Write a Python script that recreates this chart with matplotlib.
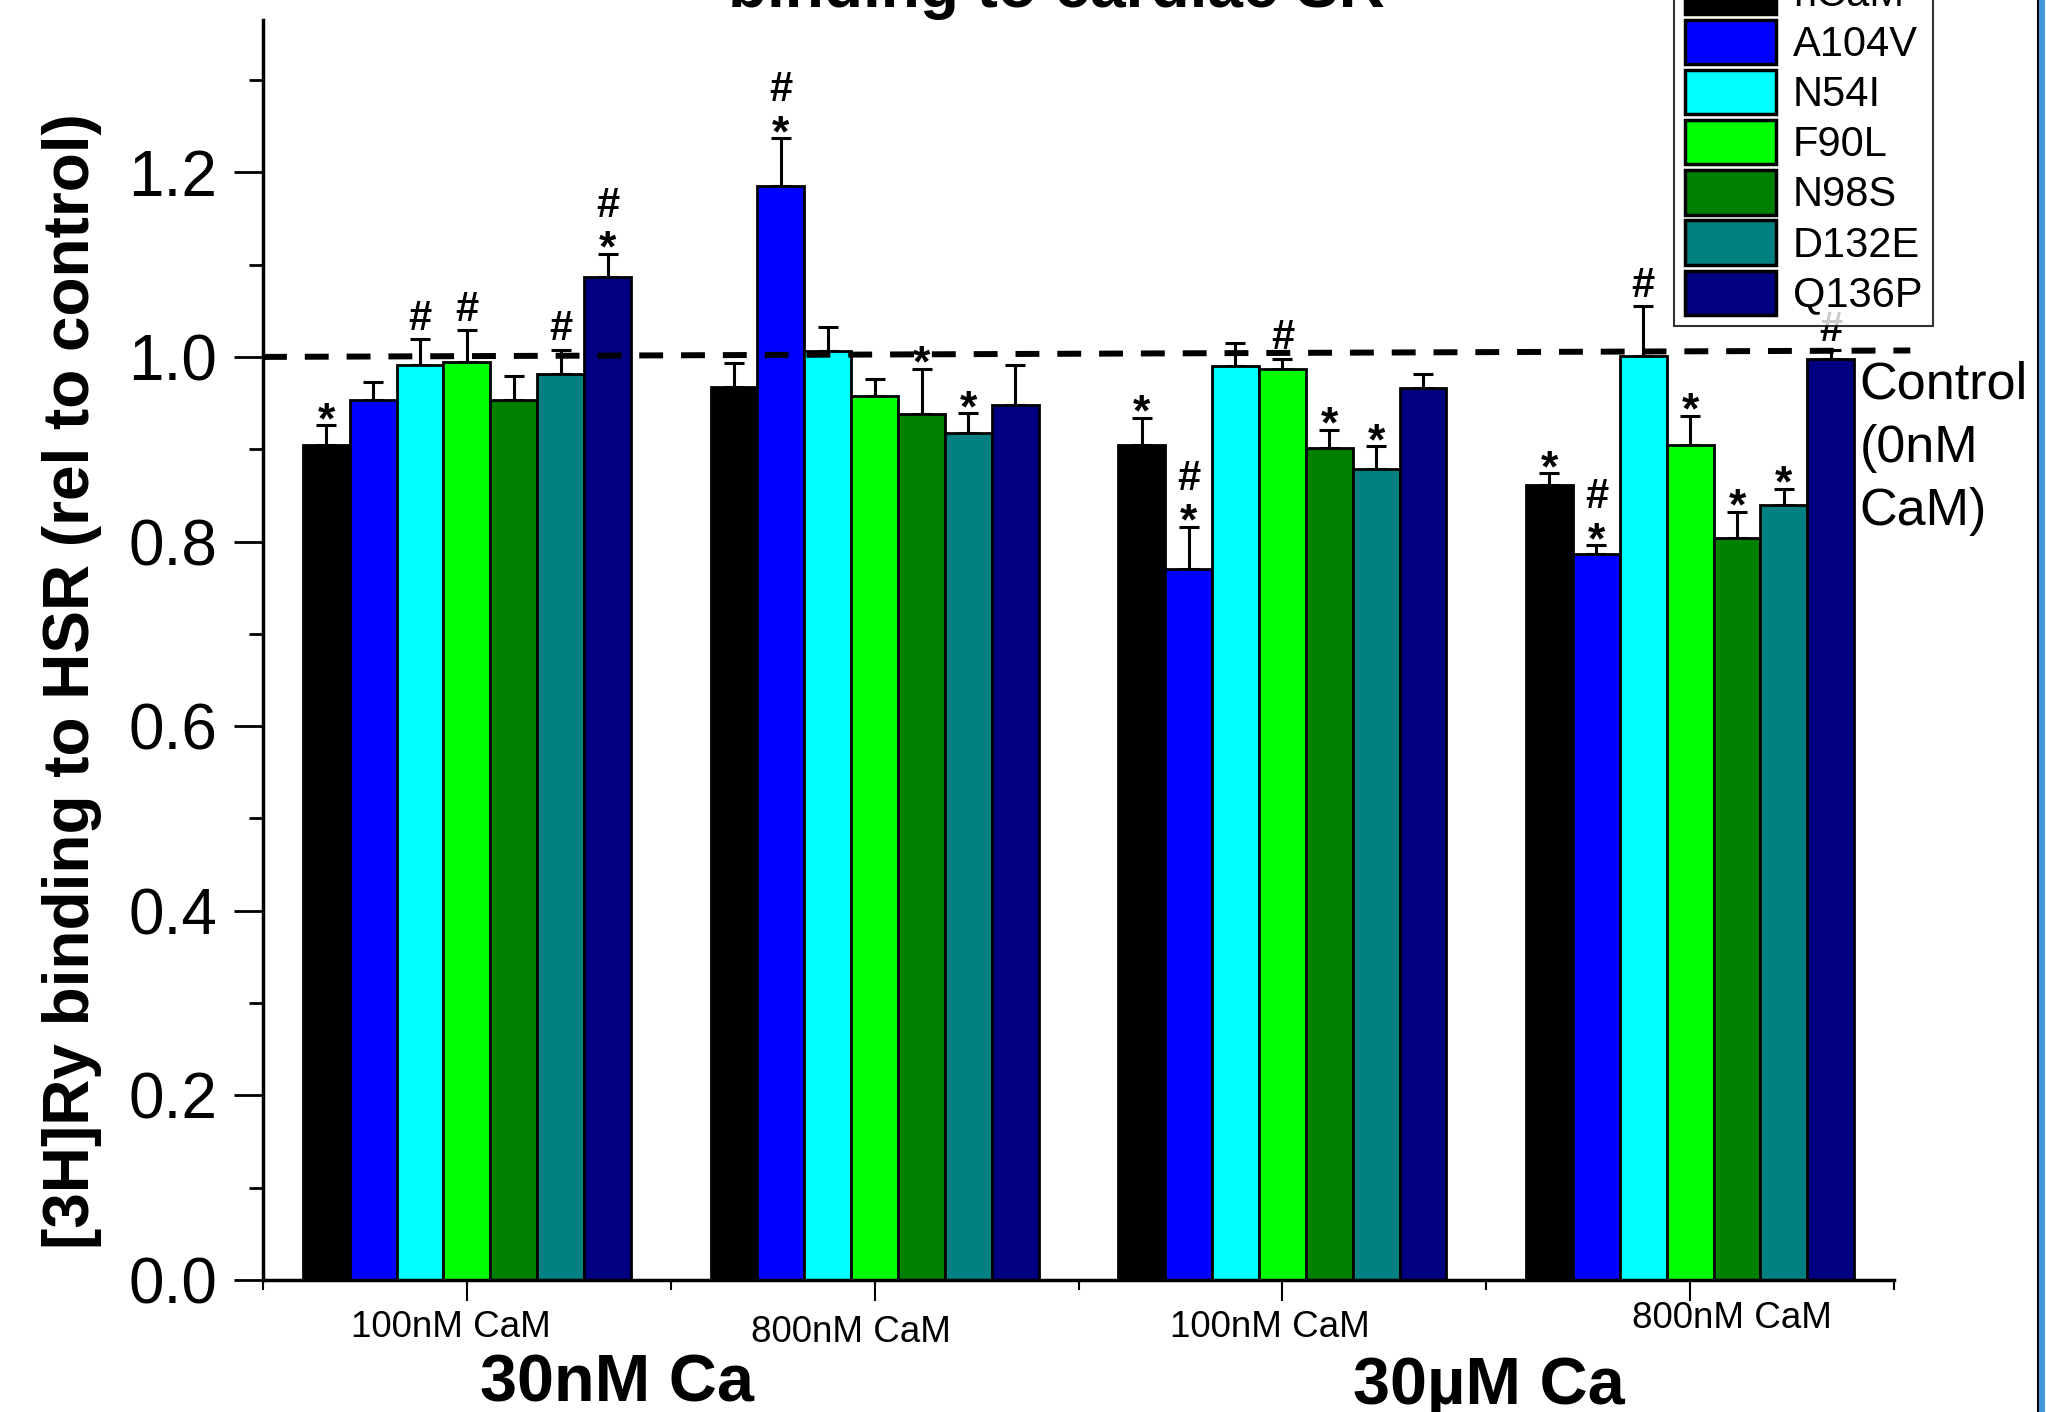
import numpy as np
import matplotlib.pyplot as plt
from matplotlib.transforms import ScaledTranslation
from matplotlib.patches import Rectangle

plt.rcParams['font.family'] = ['Liberation Sans', 'DejaVu Sans']

# CaM condition per group, calcium condition per pair of groups
cam_labels = ['100nM CaM', '800nM CaM', '100nM CaM', '800nM CaM']
ca_labels = ['30nM Ca', '30\u00b5M Ca']

mutants = ['hCaM', 'A104V', 'N54I', 'F90L', 'N98S', 'D132E', 'Q136P']
colors = ['#000000', '#0000FF', '#00FFFF', '#00FF00', '#008000', '#008080', '#000080']

# [3H]Ry binding relative to control, one value per group
hcam = [0.905, 0.967, 0.905, 0.861]
a104v = [0.953, 1.185, 0.770, 0.786]
n54i = [0.991, 1.006, 0.990, 1.001]
f90l = [0.995, 0.958, 0.987, 0.905]
n98s = [0.953, 0.938, 0.901, 0.804]
d132e = [0.982, 0.918, 0.879, 0.840]
q136p = [1.087, 0.948, 0.966, 0.998]

# upper error (SEM)
hcam_err = [0.021, 0.026, 0.029, 0.013]
a104v_err = [0.020, 0.052, 0.046, 0.010]
n54i_err = [0.028, 0.026, 0.025, 0.054]
f90l_err = [0.034, 0.018, 0.011, 0.031]
n98s_err = [0.026, 0.049, 0.020, 0.028]
d132e_err = [0.026, 0.021, 0.024, 0.017]
q136p_err = [0.025, 0.043, 0.015, 0.009]

# significance marks (* vs control, # vs hCaM)
hcam_sig = ['*', '', '*', '*']
a104v_sig = ['', '*#', '*#', '*#']
n54i_sig = ['#', '', '', '#']
f90l_sig = ['#', '', '#', '*']
n98s_sig = ['', '*', '*', '*']
d132e_sig = ['#', '*', '*', '*']
q136p_sig = ['*#', '', '', '#']

control_level = [1.000, 1.007]

values = [hcam, a104v, n54i, f90l, n98s, d132e, q136p]
errors = [hcam_err, a104v_err, n54i_err, f90l_err, n98s_err, d132e_err, q136p_err]
marks = [hcam_sig, a104v_sig, n54i_sig, f90l_sig, n98s_sig, d132e_sig, q136p_sig]

W, H, DPI = 2046, 1412, 100
fig = plt.figure(figsize=(W / DPI, H / DPI), dpi=DPI)
ax = fig.add_axes([263 / W, 1 - 1280 / H, (1894 - 263) / W, (1280 - 20) / H])

x = np.arange(len(cam_labels))
width = 0.115
for i, (name, col) in enumerate(zip(mutants, colors)):
    xs = x + (i - 3) * width
    ax.bar(xs, values[i], width, color=col, edgecolor='black', linewidth=2,
           label=name, zorder=2)
    ax.errorbar(xs, values[i], yerr=[np.zeros(len(x)), errors[i]], fmt='none',
                ecolor='black', elinewidth=2.2, capsize=7.5, capthick=2.2, zorder=1)
    for xi, v, e, m in zip(xs, values[i], errors[i], marks[i]):
        top = v + e
        if '*' in m:
            ax.text(xi, top + 0.004, '*', ha='center', va='center',
                    fontsize=32, fontweight='bold')
        if '#' in m:
            yy = top + (0.052 if '*' in m else 0.022)
            ax.text(xi, yy, '#', ha='center', va='center',
                    fontsize=30, fontweight='bold')

# control line
ax.plot([-0.5, 3.54], control_level, color='black', lw=4.3, dashes=(4.0, 3.0),
        clip_on=False, zorder=3)
ax.text(3.415, control_level[1] - 0.011, 'Control\n(0nM\nCaM)', ha='left', va='top',
        fontsize=37.5, linespacing=1.38)

ax.set_xlim(-0.5, 3.5)
ax.set_ylim(0, 1.365)
ax.set_yticks(np.arange(0, 1.21, 0.2))
ax.set_yticks(np.arange(0.1, 1.31, 0.2), minor=True)
ax.set_yticklabels([f'{t:.1f}' for t in np.arange(0, 1.21, 0.2)])
ax.set_xticks(x)
ax.set_xticks(np.arange(-0.5, 3.6, 1.0), minor=True)
ax.set_xticklabels(cam_labels, fontsize=26.5)

for s in ['top', 'right']:
    ax.spines[s].set_visible(False)
for s in ['left', 'bottom']:
    ax.spines[s].set_linewidth(2.5)
ax.tick_params(axis='y', which='major', length=21, width=2, labelsize=46, pad=12)
ax.tick_params(axis='y', which='minor', length=10, width=2)
ax.tick_params(axis='x', which='major', length=15, width=1.5, pad=2)
ax.tick_params(axis='x', which='minor', length=7, width=1.5)

# hand-placed CaM labels
shifts = [(-16, -6), (-24, -11), (-12, -6), (42, 3)]
for lbl, (dx, dy) in zip(ax.get_xticklabels(), shifts):
    lbl.set_transform(lbl.get_transform() + ScaledTranslation(dx / DPI, dy / DPI, fig.dpi_scale_trans))

fig.text(617 / W, 1 - 1385 / H, ca_labels[0], ha='center', va='center',
         fontsize=48, fontweight='bold')
fig.text(1489 / W, 1 - 1387 / H, ca_labels[1], ha='center', va='center',
         fontsize=48, fontweight='bold')

fig.text(72 / W, 1 - 681 / H, '[3H]Ry binding to HSR (rel to control)', rotation=90,
         ha='center', va='center', fontsize=46, fontweight='bold')

fig.text(1056 / W, 1 - 7 / H, 'binding to cardiac SR', ha='center', va='baseline',
         fontsize=46, fontweight='bold')

leg = ax.legend(loc='lower right', bbox_to_anchor=(1933 / W, 1 - 326 / H),
                bbox_transform=fig.transFigure, fontsize=30, frameon=True,
                fancybox=False, edgecolor='black', handlelength=2.2,
                handleheight=1.25, handletextpad=0.4, labelspacing=0.12,
                borderpad=0.25, borderaxespad=0)
leg.get_frame().set_linewidth(1.5)
for p in leg.get_patches():
    p.set_linewidth(2.5)

# page border on the right
fig.add_artist(Rectangle((2037 / W, 0), 2 / W, 1, transform=fig.transFigure,
                         color='black', lw=0))
fig.add_artist(Rectangle((2039 / W, 0), 6 / W, 1, transform=fig.transFigure,
                         color='#4397DF', lw=0))

fig.savefig('out.png', dpi=DPI)
